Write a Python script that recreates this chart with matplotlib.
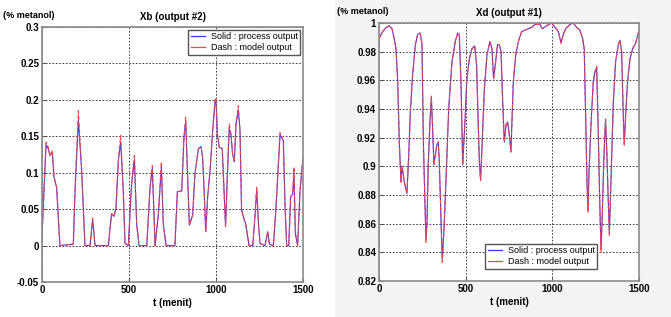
import matplotlib.pyplot as plt
from matplotlib.patches import Rectangle

# Xb (output #2) - left panel
t_xb = [0, 23, 36, 46, 59, 69, 84, 103, 180, 190, 209, 228, 247, 276, 291, 305, 381,
        400, 414, 425, 439, 452, 467, 477, 496, 515, 531, 544, 558, 602, 621, 634, 650,
        669, 686, 697, 713, 764, 778, 803, 816, 826, 835, 847, 866, 879, 899, 914, 923,
        933, 941, 952, 966, 981, 994, 1000, 1008, 1019, 1036, 1042, 1055, 1065, 1076,
        1086, 1095, 1105, 1115, 1128, 1138, 1147, 1157, 1172, 1190, 1211, 1224, 1234,
        1244, 1253, 1282, 1297, 1307, 1330, 1345, 1368, 1387, 1397, 1406, 1418, 1429,
        1441, 1448, 1456, 1469, 1483, 1500]
xb_process = [0.012, 0.138, 0.133, 0.124, 0.128, 0.094, 0.08, 0.0, 0.002, 0.076, 0.172,
              0.103, 0.0, 0.0, 0.035, 0.0, 0.0, 0.044, 0.04, 0.051, 0.117, 0.142, 0.076,
              0.003, 0.0, 0.085, 0.118, 0.03, 0.0, 0.0, 0.08, 0.106, 0.0, 0.044, 0.108,
              0.03, 0.0, 0.0, 0.074, 0.075, 0.149, 0.17, 0.108, 0.028, 0.042, 0.099,
              0.133, 0.136, 0.121, 0.069, 0.019, 0.067, 0.103, 0.158, 0.196, 0.2, 0.153,
              0.135, 0.133, 0.099, 0.026, 0.094, 0.16, 0.153, 0.126, 0.115, 0.167, 0.186,
              0.158, 0.049, 0.04, 0.028, 0.0, 0.0, 0.04, 0.078, 0.03, 0.003, 0.0, 0.019,
              0.002, 0.0, 0.053, 0.152, 0.144, 0.053, 0.0, 0.0, 0.067, 0.071, 0.1, 0.017,
              0.0, 0.076, 0.121]
xb_model = [0.01, 0.142, 0.135, 0.122, 0.131, 0.094, 0.08, 0.0, 0.002, 0.076, 0.185,
            0.103, 0.0, 0.0, 0.038, 0.0, 0.0, 0.044, 0.04, 0.051, 0.117, 0.151, 0.076,
            0.003, 0.0, 0.085, 0.124, 0.03, 0.0, 0.0, 0.08, 0.11, 0.0, 0.044, 0.115,
            0.03, 0.0, 0.0, 0.074, 0.075, 0.149, 0.176, 0.108, 0.028, 0.042, 0.099,
            0.133, 0.136, 0.121, 0.069, 0.019, 0.067, 0.103, 0.158, 0.201, 0.203, 0.153,
            0.135, 0.133, 0.099, 0.026, 0.094, 0.167, 0.153, 0.126, 0.115, 0.167, 0.192,
            0.158, 0.049, 0.04, 0.028, 0.0, 0.0, 0.04, 0.08, 0.03, 0.003, 0.0, 0.019,
            0.002, 0.0, 0.053, 0.155, 0.144, 0.053, 0.0, 0.0, 0.067, 0.071, 0.108, 0.017,
            0.0, 0.076, 0.121]

# Xd (output #1) - right panel
t_xd = [0, 21, 40, 60, 75, 88, 98, 108, 117, 127, 133, 146, 161, 171, 181, 194, 210,
        223, 238, 248, 256, 265, 271, 277, 284, 294, 302, 309, 317, 325, 334, 342, 348,
        357, 365, 375, 386, 402, 421, 440, 454, 463, 473, 483, 488, 498, 506, 521, 536,
        552, 563, 571, 579, 586, 594, 608, 623, 640, 652, 661, 671, 684, 694, 704, 713,
        723, 733, 742, 752, 761, 775, 789, 804, 823, 842, 862, 881, 900, 929, 942, 967,
        996, 1015, 1035, 1050, 1063, 1077, 1102, 1121, 1140, 1159, 1175, 1184, 1192,
        1200, 1206, 1211, 1223, 1236, 1246, 1256, 1265, 1273, 1281, 1288, 1298, 1307,
        1315, 1323, 1329, 1338, 1352, 1365, 1381, 1390, 1400, 1409, 1415, 1423, 1434,
        1448, 1463, 1481, 1500]
xd_process = [0.989, 0.994, 0.9967, 0.998, 0.996, 0.989, 0.982, 0.959, 0.917, 0.889,
              0.9, 0.889, 0.881, 0.906, 0.938, 0.964, 0.985, 0.992, 0.993, 0.985, 0.917,
              0.875, 0.849, 0.861, 0.901, 0.931, 0.948, 0.927, 0.901, 0.908, 0.915, 0.917,
              0.903, 0.866, 0.835, 0.856, 0.889, 0.94, 0.973, 0.987, 0.993, 0.992, 0.959,
              0.901, 0.913, 0.936, 0.959, 0.975, 0.982, 0.984, 0.971, 0.936, 0.903, 0.891,
              0.913, 0.954, 0.978, 0.987, 0.982, 0.961, 0.971, 0.985, 0.985, 0.98, 0.947,
              0.917, 0.929, 0.931, 0.922, 0.91, 0.959, 0.978, 0.987, 0.994, 0.995, 0.996,
              0.997, 0.999, 0.999, 0.996, 0.998, 1.0, 0.997, 0.994, 0.986, 0.992, 0.996,
              0.999, 1.0, 0.997, 0.995, 0.989, 0.982, 0.936, 0.889, 0.869, 0.894, 0.929,
              0.959, 0.966, 0.969, 0.924, 0.878, 0.842, 0.866, 0.908, 0.933, 0.908, 0.875,
              0.853, 0.889, 0.945, 0.973, 0.985, 0.988, 0.98, 0.936, 0.915, 0.936, 0.959,
              0.975, 0.982, 0.986, 0.995]
xd_model = [0.989, 0.994, 0.9967, 0.998, 0.996, 0.989, 0.982, 0.959, 0.917, 0.889,
            0.9, 0.889, 0.881, 0.906, 0.938, 0.964, 0.985, 0.992, 0.993, 0.985, 0.917,
            0.875, 0.847, 0.861, 0.901, 0.931, 0.949, 0.927, 0.901, 0.908, 0.915, 0.917,
            0.903, 0.866, 0.833, 0.856, 0.889, 0.94, 0.973, 0.987, 0.993, 0.992, 0.959,
            0.901, 0.913, 0.936, 0.959, 0.975, 0.982, 0.984, 0.971, 0.936, 0.903, 0.89,
            0.913, 0.954, 0.978, 0.987, 0.982, 0.961, 0.971, 0.985, 0.985, 0.98, 0.947,
            0.917, 0.929, 0.931, 0.922, 0.91, 0.959, 0.978, 0.987, 0.994, 0.995, 0.996,
            0.997, 0.999, 0.999, 0.996, 0.998, 1.0, 0.997, 0.994, 0.986, 0.992, 0.996,
            0.999, 1.0, 0.997, 0.995, 0.989, 0.982, 0.936, 0.889, 0.868, 0.894, 0.929,
            0.959, 0.966, 0.97, 0.924, 0.878, 0.84, 0.866, 0.908, 0.933, 0.908, 0.875,
            0.852, 0.889, 0.945, 0.973, 0.985, 0.988, 0.98, 0.936, 0.915, 0.936, 0.959,
            0.975, 0.982, 0.986, 0.995]

xticks = [0, 500, 1000, 1500]
xb_ticks = [-0.05, 0, 0.05, 0.1, 0.15, 0.2, 0.25, 0.3]
xb_ticklabels = ['-0.05', '0', '0.05', '0.1', '0.15', '0.2', '0.25', '0.3']
xd_ticks = [0.82, 0.84, 0.86, 0.88, 0.9, 0.92, 0.94, 0.96, 0.98, 1.0]
xd_ticklabels = ['0.82', '0.84', '0.86', '0.88', '0.9', '0.92', '0.94', '0.96', '0.98', '1']

plt.rcParams['font.family'] = ['Liberation Sans', 'DejaVu Sans']

fig = plt.figure(figsize=(6.71, 3.17), dpi=100)
fig.patches.append(Rectangle((335 / 671, 0), 1 - 335 / 671, 1, transform=fig.transFigure,
                             facecolor='#f3f3f3', edgecolor='none', zorder=-10))

ax1 = fig.add_axes([42 / 671, 1 - 282 / 317, 261 / 671, 255 / 317])
ax2 = fig.add_axes([379 / 671, 1 - 281 / 317, 260 / 671, 258 / 317])


def style(ax, yticks, ylabels, ylim, title):
    ax.set_xlim(0, 1500)
    ax.set_ylim(*ylim)
    ax.set_xticks(xticks)
    ax.set_xticklabels([str(x) for x in xticks], fontsize=7, fontweight='bold')
    ax.set_yticks(yticks)
    ax.set_yticklabels(ylabels, fontsize=7, fontweight='bold')
    ax.tick_params(direction='in', length=3, pad=2, color='#555555')
    ax.grid(True, color='#222222', linestyle=(0, (2, 2)), linewidth=0.6)
    for s in ax.spines.values():
        s.set_color('#8a8a8a')
        s.set_linewidth(1.2)
    ax.set_title(title, fontsize=7, fontweight='bold', pad=5)
    ax.set_xlabel('t (menit)', fontsize=7, fontweight='bold', labelpad=2)


def legend(ax, **kw):
    h = [plt.Line2D([], [], color='#3333ff', lw=0.9),
         plt.Line2D([], [], color='#ff4040', lw=0.9)]
    ax.legend(h, ['Solid : process output', 'Dash : model output'], fontsize=6.5,
              frameon=True, fancybox=False, framealpha=1, edgecolor='#555555',
              borderpad=0.3, labelspacing=0.2, handlelength=1.6, handletextpad=0.6, **kw)


ax1.plot(t_xb, xb_process, color='#3333ff', lw=0.8)
ax1.plot(t_xb, xb_model, color='#ff4040', lw=0.8, dashes=(4, 2))
style(ax1, xb_ticks, xb_ticklabels, (-0.05, 0.3), 'Xb (output #2)')
legend(ax1, loc='upper right', borderaxespad=0.3)
fig.text(3 / 671, 1 - 15 / 317, '(% metanol)', fontsize=6.5, fontweight='bold', va='center')

ax2.plot(t_xd, xd_process, color='#3333ff', lw=0.8)
ax2.plot(t_xd, xd_model, color='#ff4040', lw=0.8, dashes=(4, 2))
style(ax2, xd_ticks, xd_ticklabels, (0.82, 1.0), 'Xd (output #1)')
legend(ax2, loc='lower left', bbox_to_anchor=(106 / 260, 12 / 258), borderaxespad=0)
fig.text(337 / 671, 1 - 11 / 317, '(% metanol)', fontsize=6.5, fontweight='bold', va='center')

fig.savefig('out.png', dpi=100)
